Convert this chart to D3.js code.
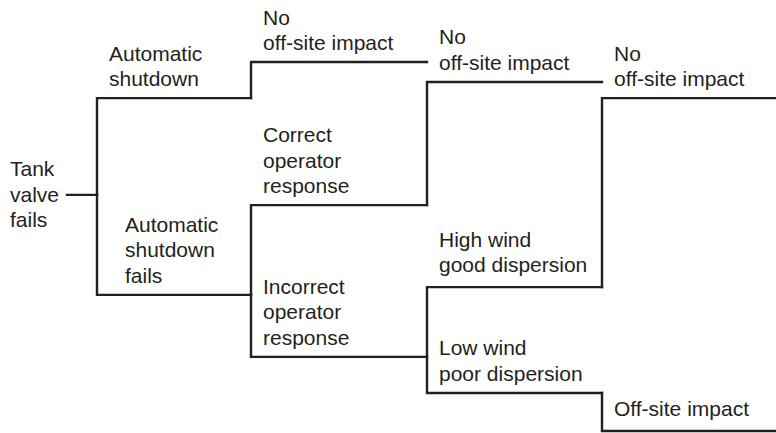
<!DOCTYPE html>
<html>
<head>
<meta charset="utf-8">
<script src="https://cdn.jsdelivr.net/npm/d3@7"></script>
<style>
  body { margin: 0; background: #fff; }
  text { font-family: "Liberation Sans", Arial, sans-serif; font-size: 21px; fill: #231f20; }
</style>
</head>
<body>
<div id="tree"></div>
<script>

// event tree nodes: level (column), level position (0 = top, 1 = bottom), parent id, label lines
var nodeIds    = ["root", "as", "asf", "noImpact1", "cor", "ior", "noImpact2", "hw", "lw", "noImpact3", "offsite"];
var nodeLevels = [0, 1, 1, 2, 2, 2, 3, 3, 3, 4, 4];
var nodePos    = [0.360, 0.098, 0.631, 0, 0.388, 0.799, 0.054, 0.610, 0.897, 0.098, 1.0];
var nodeParent = [null, "root", "root", "as", "asf", "asf", "cor", "ior", "ior", "hw", "lw"];
var nodeLabels = [
  ["Tank", "valve", "fails"],
  ["Automatic", "shutdown"],
  ["Automatic", "shutdown", "fails"],
  ["No", "off-site impact"],
  ["Correct", "operator", "response"],
  ["Incorrect", "operator", "response"],
  ["No", "off-site impact"],
  ["High wind", "good dispersion"],
  ["Low wind", "poor dispersion"],
  ["No", "off-site impact"],
  ["Off-site impact"]
];

var svgWidth = 776;
var svgHeight = 433;

var svg = d3.select("#tree")
  .append("svg")
  .attr("width", svgWidth)
  .attr("height", svgHeight);

// columns where each level starts / ends
var xScale = d3.scaleLinear()
  .domain([-1, 0, 1, 2, 3, 4])
  .range([67, 97, 251, 427, 602, 776]);

var yScale = d3.scaleLinear()
  .domain([0, 1])
  .range([62, 431]);

var nodes = nodeIds.map(function(id, i) {
  return {id: id, level: nodeLevels[i], pos: nodePos[i], parent: nodeParent[i], label: nodeLabels[i]};
});
var byId = {};
nodes.forEach(function(d) { byId[d.id] = d; });

// branch paths: vertical step from parent level, then horizontal to next column
var line = d3.line();
svg.selectAll("path.branch")
  .data(nodes)
  .enter()
  .append("path")
  .attr("class", "branch")
  .attr("fill", "none")
  .attr("stroke", "#231f20")
  .attr("stroke-width", 2.4)
  .attr("stroke-linejoin", "miter")
  .attr("stroke-linecap", "square")
  .attr("d", function(d) {
    var y = yScale(d.pos);
    if (d.parent === null) {
      return line([[xScale(-1), y], [xScale(0), y]]);
    }
    var py = yScale(byId[d.parent].pos);
    var x0 = xScale(d.level - 1);
    var x1 = xScale(d.level);
    return line([[x0, py], [x0, y], [x1, y]]);
  });

// labels sit above their branch line
var lineGap = 25.5;
var labels = svg.selectAll("text.label")
  .data(nodes)
  .enter()
  .append("text")
  .attr("class", "label")
  .attr("x", function(d) {
    if (d.parent === null) return 10;
    var indent = d.id === "asf" ? 28 : 12;
    return xScale(d.level - 1) + indent;
  })
  .attr("y", function(d) {
    var y = yScale(d.pos);
    if (d.parent === null) return y + 7 - lineGap;
    var gap = (d.id === "hw" || d.id === "offsite") ? 15 : 12;
    return y - gap - (d.label.length - 1) * lineGap;
  });

labels.selectAll("tspan")
  .data(function(d) { return d.label.map(function(t, i) { return {t: t, i: i}; }); })
  .enter()
  .append("tspan")
  .attr("x", function() { return d3.select(this.parentNode).attr("x"); })
  .attr("dy", function(d) { return d.i === 0 ? 0 : lineGap; })
  .text(function(d) { return d.t; });

</script>
</body>
</html>
